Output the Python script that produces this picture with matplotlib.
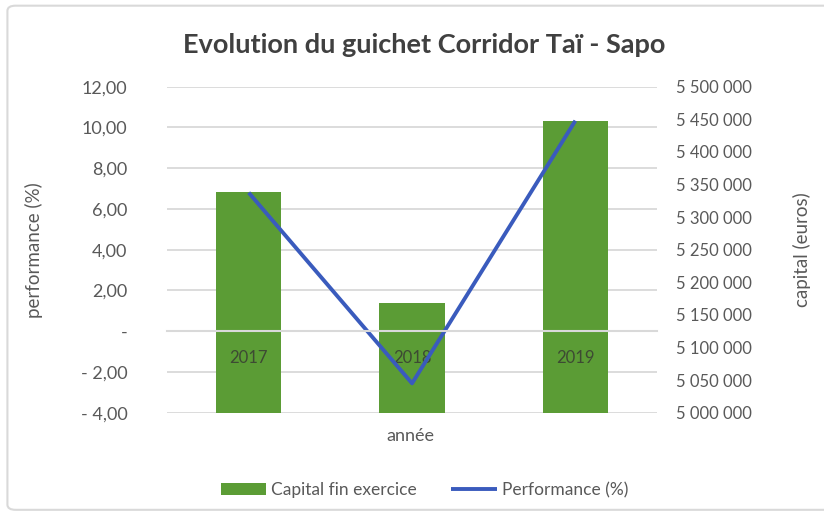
import matplotlib.pyplot as plt
from matplotlib.patches import FancyBboxPatch
from matplotlib.ticker import FuncFormatter

plt.rcParams["font.family"] = ["Lato", "DejaVu Sans"]

years = ["2017", "2018", "2019"]
capital = [5339000, 5169000, 5448000]   # euros, right axis (bars)
performance = [6.80, -2.56, 10.33]      # %, left axis (line)

GREEN = "#5b9c35"
BLUE = "#3a5bbd"
GRID = "#d9d9d9"
TXT = "#595959"


def perf_fmt(v, pos):
    if abs(v) < 1e-9:
        return "-"
    s = f"{abs(v):.2f}".replace(".", ",")
    return ("- " + s) if v < 0 else s


def cap_fmt(v, pos):
    return f"{v:,.0f}".replace(",", " ")


fig = plt.figure(figsize=(8.24, 5.16), dpi=100)
rect = [0.2027, 0.2002, 0.5947, 0.6318]

# chart border
fig.patches.append(FancyBboxPatch((0.009, 0.012), 1.05, 0.977, boxstyle="round,pad=0,rounding_size=0.01",
                                  transform=fig.transFigure, fill=False, edgecolor=GRID, linewidth=1.5))

x = range(len(years))

# background axes: gridlines only
ax_grid = fig.add_axes(rect, zorder=0)
ax_grid.set_ylim(-4, 12)
ax_grid.set_xlim(-0.5, 2.5)
ax_grid.set_yticks(range(-4, 13, 2))
ax_grid.grid(axis="y", color=GRID, linewidth=1.3)
ax_grid.tick_params(left=False, bottom=False, labelleft=False, labelbottom=False)
for s in ax_grid.spines.values():
    s.set_visible(False)

# capital bars, right axis
ax_cap = fig.add_axes(rect, zorder=1)
ax_cap.patch.set_visible(False)
ax_cap.bar(x, capital, width=0.4, color=GREEN, label="Capital fin exercice")
ax_cap.set_xlim(-0.5, 2.5)
ax_cap.set_ylim(5000000, 5500000)
ax_cap.set_yticks(range(5000000, 5500001, 50000))
ax_cap.yaxis.set_major_formatter(FuncFormatter(cap_fmt))
ax_cap.yaxis.tick_right()
ax_cap.yaxis.set_label_position("right")
ax_cap.tick_params(axis="y", right=False, labelsize=12, labelcolor=TXT, pad=10)
ax_cap.tick_params(axis="x", bottom=False, labelbottom=False)
ax_cap.set_ylabel("capital (euros)", fontsize=13.5, color=TXT, rotation=90, labelpad=30)
for s in ax_cap.spines.values():
    s.set_visible(False)

# performance line, left axis
ax = fig.add_axes(rect, zorder=2)
ax.patch.set_visible(False)
ax.plot(x, performance, color=BLUE, linewidth=2.8, solid_capstyle="butt", label="Performance (%)")
ax.set_xlim(-0.5, 2.5)
ax.set_ylim(-4, 12)
ax.set_yticks(range(-4, 13, 2))
ax.yaxis.set_major_formatter(FuncFormatter(perf_fmt))
ax.tick_params(axis="y", left=False, labelsize=13, labelcolor=TXT, pad=25)
ax.set_xticks(list(x))
ax.set_xticklabels(years)
ax.tick_params(axis="x", bottom=False, labelsize=12, labelcolor="#3d4a33", pad=10)
ax.set_ylabel("performance (%)", fontsize=13.5, color=TXT, labelpad=27)
for name in ["top", "left", "right"]:
    ax.spines[name].set_visible(False)
ax.spines["bottom"].set_position(("data", 0))
ax.spines["bottom"].set_color(GRID)
ax.spines["bottom"].set_linewidth(1.5)

fig.text(0.498, 0.155, "année", ha="center", va="center", fontsize=13, color=TXT)
fig.text(0.515, 0.912, "Evolution du guichet Corridor Taï - Sapo", ha="center", va="center",
         fontsize=19.5, fontweight="bold", color="#404040")

handles = [ax_cap.containers[0], ax.lines[0]]
fig.legend(handles, ["Capital fin exercice", "Performance (%)"], loc="center",
           bbox_to_anchor=(0.515, 0.05), ncol=2, frameon=False, fontsize=12.5,
           labelcolor=TXT, handlelength=2.6, handletextpad=0.3, columnspacing=2.0)

fig.savefig("out.png", dpi=100)
